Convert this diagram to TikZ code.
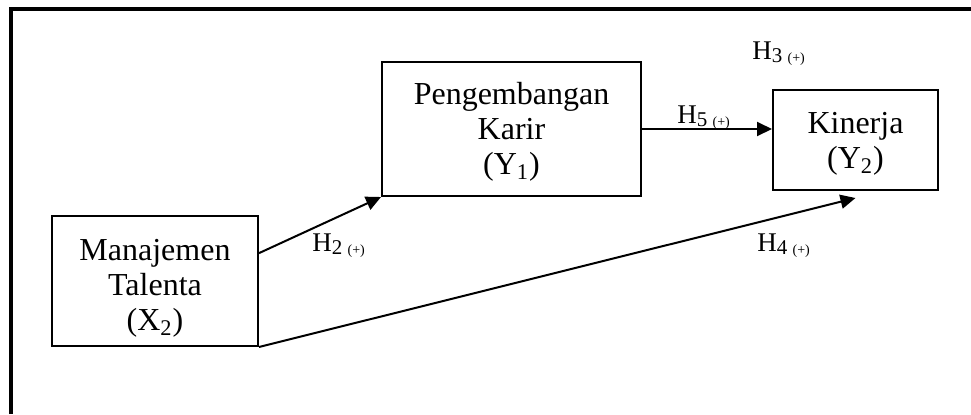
\documentclass[tikz,border=0pt]{standalone}
\usepackage{fontspec}
\setmainfont{Liberation Serif}
\usetikzlibrary{arrows.meta,positioning}

% hypothesis label, e.g. H_2 (+)
\newcommand{\hyp}[1]{H\raisebox{-1.5pt}{\fontsize{10.5}{10.5}\selectfont#1 {\fontsize{7}{7}\selectfont(+)}}}
% extra room above the first line of a box
\newcommand{\topstrut}[1]{\rule{0pt}{#1}}

\begin{document}
\begin{tikzpicture}[
    x=0.5pt, y=-0.5pt,
    varbox/.style={rectangle, draw, line width=1pt, align=center, inner sep=0pt,
        font=\fontsize{16}{17.5}\selectfont},
    hlabel/.style={anchor=base west, inner sep=0pt, font=\fontsize{13.5}{14}\selectfont},
    arrow/.style={-{Triangle[length=7.5pt,width=7pt]}, line width=1pt}
]
\useasboundingbox (0,0) rectangle (971,414);

% Frame
\draw[line width=2pt, line join=miter] (11,414) -- (11,9) -- (971,9);

% Variables
\node[varbox, minimum width=103pt, minimum height=65pt] (talent) at (155,281) {\topstrut{17.5pt}Manajemen\\Talenta\\(X\textsubscript{2})};
\node[varbox, minimum width=129.5pt, minimum height=67pt] (karir) at (511.5,129) {\topstrut{14pt}Pengembangan\\Karir\\(Y\textsubscript{1})};
\node[varbox, minimum width=82.5pt, minimum height=50pt] (kinerja) at (855.5,140) {\topstrut{14pt}Kinerja\\(Y\textsubscript{2})};

% Arrows
\draw[arrow] (talent.15) -- (karir.south west);
\draw[arrow] (karir.east) -- (karir.east -| kinerja.west);
\draw[arrow] (talent.south east) -- ([yshift=-3.5pt]kinerja.south);

% Hypotheses
\node[hlabel] (h2) at (312,251) {\hyp{2}};
\node[hlabel] (h5) at (677,123) {\hyp{5}};
\node[hlabel] (h3) at (752,59) {\hyp{3}};
\node[hlabel] (h4) at (757,251) {\hyp{4}};

\end{tikzpicture}
\end{document}
